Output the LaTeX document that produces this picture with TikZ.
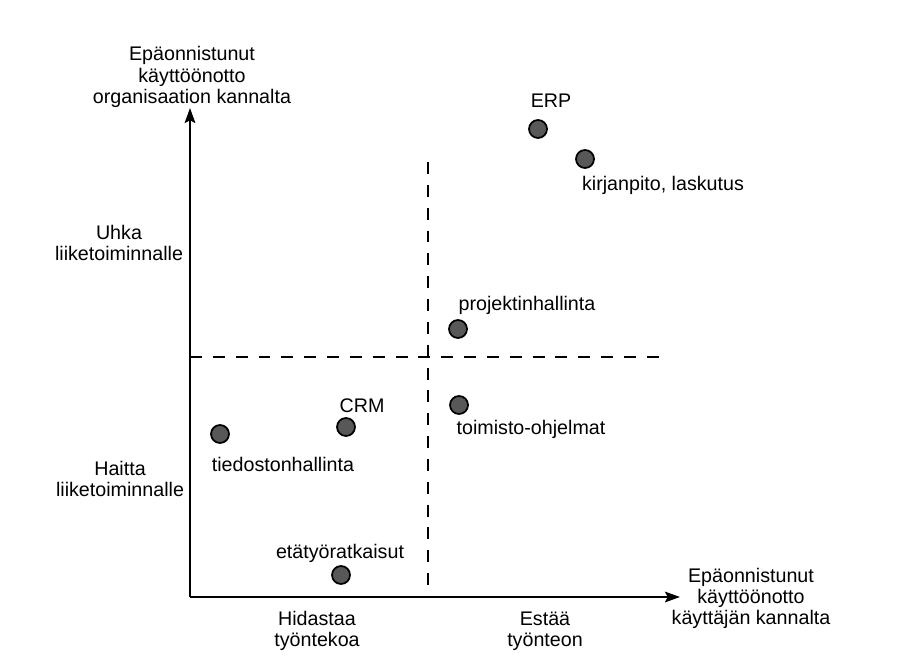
\documentclass[tikz,border=0pt]{standalone}
\usepackage{fontspec}
\setmainfont{Liberation Sans}
\usetikzlibrary{arrows.meta}
\definecolor{dotgray}{RGB}{88,88,88}

\begin{document}
\begin{tikzpicture}[x=0.02cm,y=-0.02cm]
  \tikzstyle{txt}   = [align=center,inner sep=0pt,font=\fontsize{11.2}{12}\selectfont]
  \tikzstyle{dot}   = [circle,inner sep=0pt,minimum size=0.36cm,draw=black,line width=1pt,fill=dotgray]
  \tikzstyle{axis}  = [line width=1.35pt,-{Stealth[length=8.5pt,width=6pt,inset=1.5pt]}]
  \tikzstyle{split} = [line width=0.9pt,dash pattern=on 6.8pt off 6.2pt]
  \useasboundingbox (0,0) rectangle (902,668);
  % axes and quadrant lines
  \coordinate (o)    at (190,597);
  \coordinate (ytip) at (190,108);
  \coordinate (xtip) at (680,597);
  \coordinate (vtop) at (428,162);
  \coordinate (vbot) at (428,597);
  \coordinate (hl)   at (190,357);
  \coordinate (hr)   at (668,357);
  \draw[split] (vtop) -- (vbot);
  \draw[split] (hl) -- (hr);
  \draw[axis] (o) -- (ytip);
  \draw[axis] (o) -- (xtip);
  % axis texts
  \path (192, 77) node[txt](yname) {Epäonnistunut\\käyttöönotto\\organisaation kannalta};
  \path (751,598) node[txt](xname) {Epäonnistunut\\käyttöönotto\\käyttäjän kannalta};
  \path (119,243) node[txt](threat) {Uhka\\liiketoiminnalle};
  \path (120,479) node[txt](harm)   {Haitta\\liiketoiminnalle};
  \path (317,631) node[txt](slow)   {Hidastaa\\työntekoa};
  \path (545,631) node[txt](stop)   {Estää\\työnteon};
  % systems
  \path (538,129) node[dot](erp)   {};
  \path (585,159) node[dot](acc)   {};
  \path (458,329) node[dot](proj)  {};
  \path (459,405) node[dot](office){};
  \path (346,427) node[dot](crm)   {};
  \path (220,434) node[dot](files) {};
  \path (341,575) node[dot](remote){};
  \path (551,101) node[txt](erpT)    {ERP};
  \path (663,185) node[txt](accT)    {kirjanpito, laskutus};
  \path (527,305) node[txt](projT)   {projektinhallinta};
  \path (531,429) node[txt](officeT) {toimisto-ohjelmat};
  \path (362,406) node[txt](crmT)    {CRM};
  \path (283,464) node[txt](filesT)  {tiedostonhallinta};
  \path (340,553) node[txt](remoteT) {etätyöratkaisut};
\end{tikzpicture}
\end{document}
